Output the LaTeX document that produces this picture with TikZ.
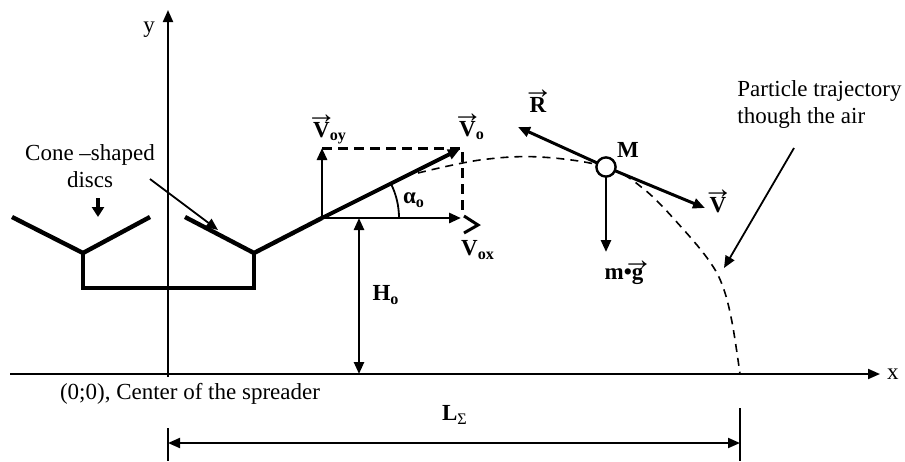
\documentclass[tikz,border=0pt]{standalone}
\usepackage{fontspec}
\usepackage{graphicx}
\setmainfont{Liberation Serif}
\usetikzlibrary{arrows.meta}
\newcommand{\vecar}[2][7pt]{\leavevmode\ooalign{#2\cr\hidewidth\raisebox{#1}{\normalfont\scalebox{1.35}[1.3]{→}}\hidewidth\cr}}
\begin{document}
\begin{tikzpicture}[x=0.5pt,y=-0.5pt,
  font=\fontsize{11.5}{13.5}\selectfont,
  tip/.style={-{Triangle[length=6pt,width=5pt]}},
  thinline/.style={line width=1pt},
  disc/.style={line width=2.2pt,line join=miter},
  vec/.style={line width=1.4pt,tip},
  lbl/.style={inner sep=0pt,font=\fontsize{11.5}{13.5}\selectfont\bfseries},
  traj/.style={line width=0.8pt,dash pattern=on 4pt off 3pt}]
\useasboundingbox (0,0) rectangle (905,461);
% coordinates
\coordinate (O) at (322,218);
\coordinate (Vy) at (322,148);
\coordinate (Vc) at (462,148);
\coordinate (Vcb) at (462,212);
\coordinate (V0) at (460,149);
\coordinate (Vx) at (461,218);
\coordinate (M) at (606,167);
\coordinate (Rt) at (518,127);
\coordinate (Vt) at (705,208);
\coordinate (Gt) at (606,252);
\coordinate (Hb) at (359,374);
\coordinate (Ht) at (359,218);
% axes
\draw[thinline,tip] (10,374) -- (880,374) node[right,inner sep=3pt] (xl) {x};
\draw[thinline,tip] (168,377) -- (168,10);
\node (yl) at (149,30) {y};
% discs
\draw[disc] (12,217) -- (83,253) -- (150,217);
\draw[disc] (83,253) -- (83,288) -- (254,288) -- (254,253);
\draw[disc] (185,217) -- (254,253) -- (O);
% cone label
\node[align=center] (cone) at (90,166) {Cone –shaped\\discs};
\draw[line width=2pt,-{Triangle[length=5pt,width=6pt]}] (98,198) -- (98,217);
\draw[line width=0.9pt,tip] (150,179) -- (218,230);
% dashed box
\draw[line width=1.5pt,dash pattern=on 5pt off 3pt] (Vy) -- (Vc) -- (Vcb);
% vectors
\draw[vec] (O) -- (Vy);
\draw[vec] (O) -- (Vx);
\draw[line width=2pt,tip] (O) -- (V0);
\draw[line width=1.5pt] (464,216) -- (478,225) -- (464,233);
% angle
\draw[line width=0.9pt] (399,218) arc[start angle=0,end angle=26.6,radius=38.5pt];
\node[lbl] (alpha) at (414,200) {α\textsubscript{o}};
% labels of vectors
\node[lbl,anchor=base] (lvoy) at (330,137) {\vecar{V}\textsubscript{oy}};
\node[lbl,anchor=base] (lvo) at (472,136) {\vecar{V}\textsubscript{o}};
\node[lbl] (lvox) at (478,250) {V\textsubscript{ox}};
% height
\draw[line width=1.2pt,{Triangle[length=6pt,width=5pt]}-{Triangle[length=6pt,width=5pt]}] (Ht) -- (Hb);
\node[lbl] (lho) at (386,295) {H\textsubscript{o}};
% trajectory
\draw[traj] plot[smooth,tension=0.6] coordinates {(418,173) (480,160) (540,157) (606,167) (645,190) (683,229) (710,262) (723,287) (732,322) (740,374)};
% forces at M
\draw[line width=1.5pt,tip] (M) -- (Rt);
\draw[line width=1.5pt,tip] (M) -- (Vt);
\draw[line width=1.3pt,tip] (M) -- (Gt);
\draw[line width=1.2pt,fill=white] (M) circle[radius=4.8pt];
\node[lbl] (lm) at (628,150) {M};
\node[lbl,anchor=base] (lr) at (538,112) {\vecar{R}};
\node[lbl,anchor=base] (lv) at (718,212) {\vecar{V}};
\node[lbl,anchor=base] (lg) at (624,279) {m•\vecar[5pt]{g}};
% trajectory label
\node[align=left,anchor=north west,inner sep=0pt] (ptl) at (737,80) {Particle trajectory\\though the air};
\draw[line width=0.9pt,tip] (794,148) -- (724,268);
% origin label
\node (orig) at (190,394) {(0;0), Center of the spreader};
% L dimension
\draw[thinline] (168,428) -- (168,461);
\draw[thinline] (740,408) -- (740,461);
\draw[thinline,{Triangle[length=6pt,width=5pt]}-{Triangle[length=6pt,width=5pt]}] (168,443) -- (740,443);
\node[lbl] (lsum) at (455,415) {L\textsubscript{\normalfont Σ}};
\end{tikzpicture}
\end{document}
